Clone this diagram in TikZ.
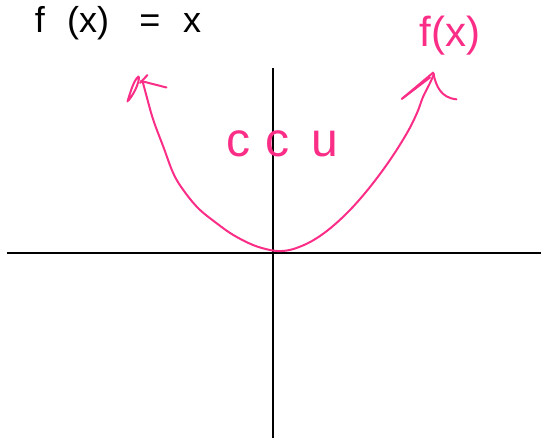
\documentclass[tikz,border=0pt]{standalone}
\usepackage{fontspec}
\setmainfont{Liberation Sans}
\definecolor{hpink}{RGB}{250,45,135}
\begin{document}
\begin{tikzpicture}[x=1pt,y=-1pt,
  axis/.style={line width=1.8pt,black},
  pinkline/.style={line width=2pt,hpink,line cap=round,line join=round},
  blacktxt/.style={inner sep=0pt,anchor=base,font=\fontsize{36}{36}\selectfont,text=black},
  pinktxt/.style={inner sep=0pt,anchor=base,text=hpink}]
\useasboundingbox (0,0) rectangle (541,438);
\fill[white] (0,0) rectangle (541,438);
% axes
\draw[axis] (7,253) -- (541,253);
\draw[axis] (273,68) -- (273,438);
% parabola
\draw[pinkline] plot[smooth,tension=0.6] coordinates {
 (142.7,81.7) (146.7,96.7) (153.3,120) (163.3,146.7) (173.3,173.3) (183.3,190)
 (198.3,208.3) (216.7,223.3) (233.3,235) (253,245) (270,250) (282,251)
 (295,248.5) (312,241) (330,228.5) (350,210) (370,187) (390,160) (407,133)
 (417,113) (423,97) (430,83) (434,74)};
% left arrow head
\draw[pinkline] (127.5,101.5) .. controls (131,90) and (134,80) .. (138.5,76.5)
  .. controls (140,78) and (137,90) .. (128.5,100.5);
\draw[pinkline] (141,81) -- (166.5,87.5);
\draw[pinkline] (147.5,75) -- (140,83);
% right arrow head
\draw[pinkline] (401.7,99) -- (433.3,72.5);
\draw[pinkline] (403,98) -- (430,77.5);
\draw[pinkline] (433.5,74) .. controls (436,86) and (441,98) .. (456.5,99.3);
% texts
\node[blacktxt] (f) at (40,33) {f};
\node[blacktxt] (px) at (88,33) {(x)};
\node[blacktxt] (eq) at (150,33) {=};
\node[blacktxt] (xx) at (192,33) {x};
\node[pinktxt,font=\fontsize{42}{42}\selectfont] (fx) at (450,47) {f(x)};
\node[pinktxt,font=\fontsize{48}{48}\selectfont] (c1) at (238,157) {c};
\node[pinktxt,font=\fontsize{48}{48}\selectfont] (c2) at (277,157) {c};
\node[pinktxt,font=\fontsize{48}{48}\selectfont] (u) at (325,157) {u};
\end{tikzpicture}
\end{document}
